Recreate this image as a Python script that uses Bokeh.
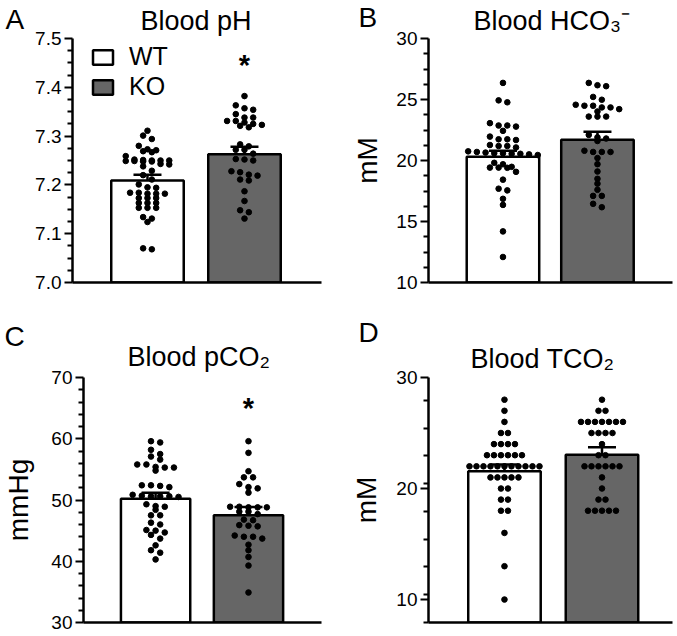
import numpy as np
from bokeh.plotting import figure
from bokeh.models import (Range1d, FixedTicker, Whisker, TeeHead, ColumnDataSource,
                          Label, Legend, LegendItem)
from bokeh.layouts import column, row
from bokeh.embed import file_html
from bokeh.resources import INLINE

FONT = "Liberation Sans"
groups = ["WT", "KO"]
bar_fill = ["#ffffff", "#666666"]

# ---------------- data ----------------
ph_wt = [7.311, 7.301, 7.294, 7.280, 7.273, 7.271, 7.269, 7.267, 7.259,
         7.252, 7.251, 7.250, 7.250, 7.250, 7.249, 7.249, 7.248, 7.248,
         7.243, 7.242, 7.238, 7.229, 7.220, 7.211,
         7.201, 7.195, 7.194,
         7.184, 7.184, 7.182, 7.182, 7.182,
         7.173, 7.173, 7.173,
         7.163, 7.163, 7.163,
         7.153, 7.153, 7.153,
         7.134, 7.131, 7.124,
         7.070, 7.068]
ph_ko = [7.382, 7.363, 7.357, 7.354, 7.345, 7.338, 7.338, 7.331, 7.331, 7.328,
         7.325, 7.323, 7.321, 7.318,
         7.283, 7.279, 7.272, 7.272, 7.264, 7.253, 7.252, 7.250,
         7.228, 7.226, 7.221, 7.219, 7.211, 7.209, 7.187, 7.167, 7.148, 7.144, 7.131]
ph_mean = [7.209, 7.263]
ph_sem = [0.012, 0.015]
ph_ticks = [7.0, 7.1, 7.2, 7.3, 7.4, 7.5]
ph_tick_labels = ["7.0", "7.1", "7.2", "7.3", "7.4", "7.5"]

hco3_wt = [26.36, 24.93, 24.77, 23.06, 22.87, 22.87, 22.78, 22.43, 21.96, 21.74,
           21.74, 21.68, 21.27, 21.19, 21.19, 21.07, 20.75, 20.70, 20.65, 20.60,
           20.60, 20.55, 20.55, 20.50, 20.45, 19.81, 19.69, 19.48, 19.42, 19.42,
           19.40, 19.07, 18.43, 17.69, 17.55, 16.86, 16.36, 14.19, 12.09]
hco3_ko = [26.36, 26.17, 26.09, 25.21, 24.98, 24.57, 24.49, 24.49, 24.35, 24.35,
           24.21, 24.02, 23.60, 23.60, 23.60, 22.10, 21.90, 21.80, 21.60, 20.80,
           20.70, 20.70, 20.70, 20.20, 19.70, 19.10, 18.50, 18.10, 17.60, 17.10,
           17.10, 16.45, 16.17]
hco3_mean = [20.3, 21.7]
hco3_sem = [0.5, 0.65]
hco3_ticks = [10, 15, 20, 25, 30]
hco3_tick_labels = ["10", "15", "20", "25", "30"]

pco2_wt = [59.6, 59.4, 58.2, 57.5, 57.1, 56.6, 55.8, 55.8, 55.4, 55.3, 55.3, 54.8,
           52.4, 52.4, 52.3, 52.1, 50.85, 50.7, 50.6, 50.6, 50.6, 50.5, 49.3, 49.0,
           48.9, 48.4, 47.5, 47.5, 46.3, 46.0, 45.1, 45.0, 44.7, 44.3, 43.7, 42.6,
           41.8, 41.4, 40.3]
pco2_ko = [59.6, 57.7, 54.7, 53.7, 53.7, 52.6, 52.1, 51.9, 51.2, 48.9, 48.9, 48.8,
           48.8, 48.8, 48.1, 48.1, 47.7, 46.8, 46.7, 45.9, 45.8, 45.7, 44.2, 44.0,
           44.0, 43.7, 42.7, 41.8, 40.7, 39.3, 34.9]
pco2_mean = [50.2, 47.5]
pco2_sem = [1.0, 1.35]
pco2_ticks = [30, 40, 50, 60, 70]
pco2_tick_labels = ["30", "40", "50", "60", "70"]

tco2_wt = [28, 27, 26, 25, 25, 24, 24, 24, 24,
           23, 23, 23, 23, 23, 23,
           22, 22, 22, 22, 22, 22, 22, 22, 22, 22, 22,
           21, 21, 21, 21, 21, 20, 20, 19, 19, 18, 18, 16, 13, 10]
tco2_ko = [28, 27, 27, 26, 26, 26, 26, 26, 26, 26, 25, 25, 25, 25, 24, 23, 23,
           22, 22, 22, 22, 22, 22, 21, 20, 19, 19, 18, 18, 18, 18, 18]
tco2_mean = [21.56, 23.05]
tco2_sem = [0.6, 0.66]
tco2_ticks = [10, 20, 30]
tco2_tick_labels = ["10", "20", "30"]

titles = ["Blood pH", "Blood HCO\u2083\u207b", "Blood pCO\u2082", "Blood TCO\u2082"]
letters = ["A", "B", "C", "D"]
ylabels = [None, "mM", "mmHg", "mM"]


def swarm(values, center, px_x, px_y, gap_px, row_px):
    order = sorted(range(len(values)), key=lambda i: -values[i])
    rows, cur = [], []
    for i in order:
        if cur and (values[cur[0]] - values[i]) * px_y > row_px:
            rows.append(cur)
            cur = []
        cur.append(i)
    rows.append(cur)
    xs = [0.0] * len(values)
    for r in rows:
        n = len(r)
        for k, i in enumerate(r):
            xs[i] = center + (k - (n - 1) / 2) * gap_px / px_x
    return xs


# canvas / frame geometry in page pixels
COLS = [(0, 340, 72, 321), (340, 675, 428, 672)]    # canvas left, right, frame left, right
ROWS = [(0, 313, 38, 282), (313, 634, 377, 622)]    # canvas top, bottom, frame top, bottom


def panel(ci, ri, xr, yr, ticks, tick_labels, minor_step, ylabel, ylabel_standoff,
          wt, ko, means, sems, gap_px, title, title_pos, letter, letter_pos,
          star_y=None, legend=False):
    cl, cr, fl, fr = COLS[ci]
    ct, cb, ft, fb = ROWS[ri]
    p = figure(width=cr - cl, height=cb - ct, x_range=Range1d(*xr), y_range=Range1d(*yr),
               output_backend="svg", toolbar_location=None,
               min_border_left=fl - cl, min_border_right=cr - fr,
               min_border_top=ft - ct, min_border_bottom=cb - fb)
    p.outline_line_color = None
    p.xgrid.grid_line_color = None
    p.ygrid.grid_line_color = None
    p.background_fill_color = "white"
    p.border_fill_color = "white"

    px_x = (fr - fl) / (xr[1] - xr[0])
    px_y = (fb - ft) / (yr[1] - yr[0])
    bar_w = 72.5 / px_x

    idx = list(range(len(groups)))
    src = ColumnDataSource(dict(x=idx, top=means, fill=bar_fill, grp=groups))
    r = p.vbar(x="x", top="top", bottom=yr[0], width=bar_w, fill_color="fill",
               line_color="black", line_width=2.5, source=src)

    for gi, vals in enumerate([wt, ko]):
        xs = swarm(vals, idx[gi], px_x, px_y, gap_px, 4.5)
        p.scatter(xs, vals, size=5.6, color="black")

    wsrc = ColumnDataSource(dict(x=idx, lower=means,
                                 upper=[m + s for m, s in zip(means, sems)]))
    p.add_layout(Whisker(source=wsrc, base="x", lower="lower", upper="upper",
                         dimension="height", line_width=2.5, line_color="black",
                         upper_head=TeeHead(size=28, line_width=2.5, line_color="black"),
                         lower_head=None))

    ya = p.yaxis[0]
    minors = [float(v) for v in np.arange(yr[0], yr[1] + 1e-9, minor_step)
              if min(abs(v - t) for t in ticks) > 1e-6]
    ya.ticker = FixedTicker(ticks=ticks, minor_ticks=minors)
    ya.major_label_overrides = {t: l for t, l in zip(ticks, tick_labels)}
    ya.axis_line_width = 2.5
    ya.axis_line_color = "black"
    ya.major_tick_line_width = 2
    ya.minor_tick_line_width = 2
    ya.major_tick_line_color = "black"
    ya.minor_tick_line_color = "black"
    ya.major_tick_in = 0
    ya.major_tick_out = 8
    ya.minor_tick_in = 0
    ya.minor_tick_out = 5
    ya.major_label_text_font = FONT
    ya.major_label_text_font_size = "19px"
    ya.major_label_text_color = "black"
    ya.major_label_standoff = 3
    if ylabel:
        ya.axis_label = ylabel
        ya.axis_label_text_font = FONT
        ya.axis_label_text_font_size = "28px"
        ya.axis_label_text_font_style = "normal"
        ya.axis_label_text_color = "black"
        ya.axis_label_standoff = ylabel_standoff

    xa = p.xaxis[0]
    xa.ticker = FixedTicker(ticks=[])
    xa.axis_line_width = 2.5
    xa.axis_line_color = "black"
    xa.major_tick_out = 0
    xa.major_tick_in = 0
    xa.minor_tick_out = 0
    xa.minor_tick_in = 0
    xa.major_label_text_font_size = "0px"
    xa.major_label_standoff = 0

    # title: label in the panel just above the frame
    p.add_layout(Label(x=title_pos[0] - fl, y=title_pos[1], x_units="screen",
                       y_units="screen", text=title, text_font=FONT, text_font_size="27px",
                       text_color="black", text_baseline="alphabetic"), "above")
    # panel letter
    side, lx, ly = letter_pos
    p.add_layout(Label(x=lx - fl, y=ly, x_units="screen", y_units="screen",
                       text=letter, text_font=FONT, text_font_size="28px",
                       text_color="black", text_baseline="alphabetic"), side)

    if star_y is not None:
        p.add_layout(Label(x=idx[1], y=star_y, x_units="data", y_units="screen",
                           text="*", text_font=FONT, text_font_size="29px",
                           text_font_style="bold", text_color="black",
                           text_align="center", text_baseline="alphabetic"))

    if legend:
        lg = Legend(items=[LegendItem(label=groups[i], renderers=[r], index=i) for i in idx],
                    location=(18, 181), glyph_width=25, glyph_height=18,
                    label_text_font=FONT, label_text_font_size="25px",
                    label_text_color="black", label_standoff=14, spacing=1,
                    padding=0, margin=0, border_line_color=None,
                    background_fill_alpha=0, label_height=29)
        p.add_layout(lg)
    return p


pA = panel(0, 0, (-0.773, 1.794), (7.0, 7.5), ph_ticks, ph_tick_labels, 0.025,
           ylabels[0], 0, ph_wt, ph_ko, ph_mean, ph_sem, 8.7,
           titles[0], (140, 18), letters[0], ("below", 5, 294), star_y=218, legend=True)
pB = panel(1, 0, (-0.788, 1.794), (10, 30), hco3_ticks, hco3_tick_labels, 1.25,
           ylabels[1], 10, hco3_wt, hco3_ko, hco3_mean, hco3_sem, 8.7,
           titles[1], (473, 17.5), letters[1], ("below", 358, 296))
pC = panel(0, 1, (-0.776, 1.786), (30, 70), pco2_ticks, pco2_tick_labels, 2,
           ylabels[2], 14, pco2_wt, pco2_ko, pco2_mean, pco2_sem, 9.6,
           titles[2], (116, 21), letters[2], ("above", -7, 11), star_y=215)
pD = panel(1, 1, (-0.779, 1.723), (7.93, 30), tco2_ticks, tco2_tick_labels, 2.5,
           ylabels[3], 11, tco2_wt, tco2_ko, tco2_mean, tco2_sem, 7.0,
           titles[3], (470, 19), letters[3], ("above", 358, 15))

layout = column(row(pA, pB, spacing=0), row(pC, pD, spacing=0), spacing=0)
open("out.html", "w").write(file_html(layout, INLINE))
